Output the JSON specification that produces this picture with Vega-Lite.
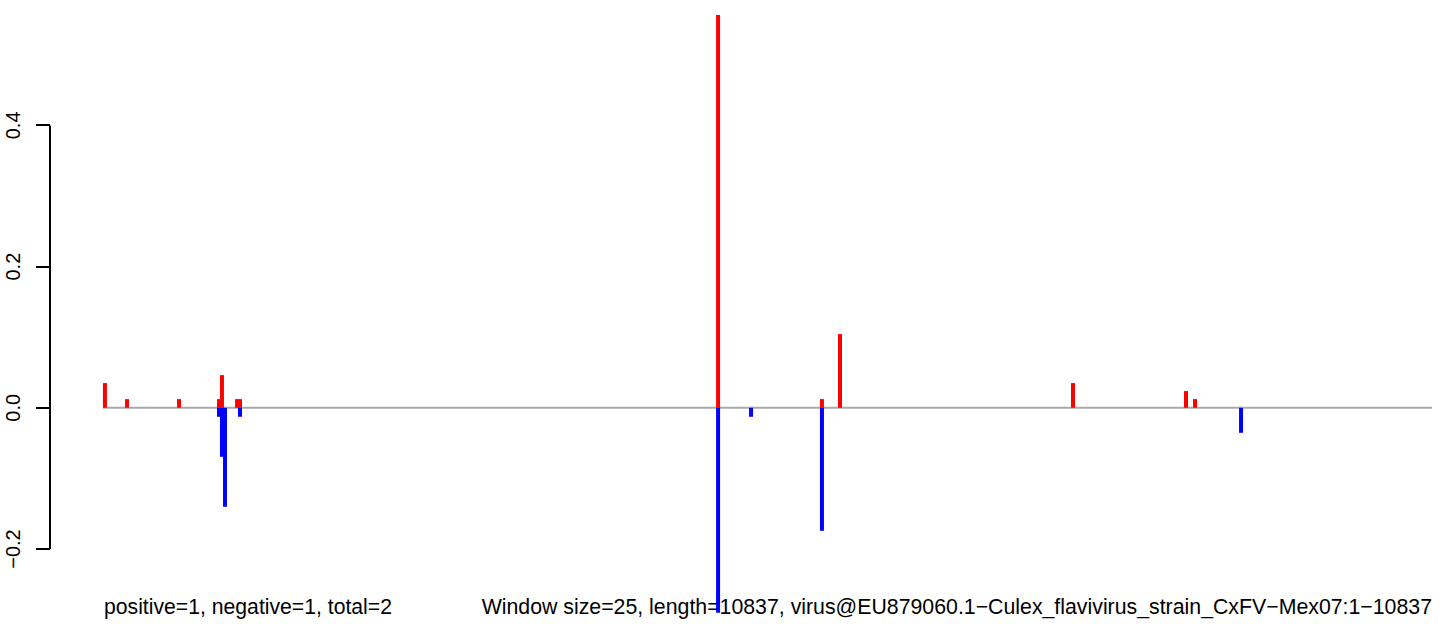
{
  "$schema": "https://vega.github.io/schema/vega-lite/v6.json",
  "width": 1394,
  "height": 624,
  "autosize": {"type": "none"},
  "padding": {"left": 50, "top": 0, "right": 0, "bottom": 0},
  "background": "white",
  "config": {
    "view": {"stroke": null},
    "font": "Liberation Sans",
    "axisX": {"disable": true},
    "axisY": {
      "domain": false,
      "grid": false,
      "tickSize": 14,
      "tickWidth": 2,
      "tickColor": "black",
      "labelAngle": -90,
      "labelAlign": "center",
      "labelBaseline": "alphabetic",
      "labelPadding": 16,
      "labelFontSize": 20,
      "labelColor": "black",
      "labelFont": "Liberation Sans",
      "translate": 0
    }
  },
  "datasets": {
    "windows": [
      {"pos": 17, "score": 0.035, "sign": "positive"},
      {"pos": 197, "score": 0.0123, "sign": "positive"},
      {"pos": 621, "score": 0.0123, "sign": "positive"},
      {"pos": 947, "score": 0.0123, "sign": "positive"},
      {"pos": 971, "score": 0.0463, "sign": "positive"},
      {"pos": 1094, "score": 0.0123, "sign": "positive"},
      {"pos": 1118, "score": 0.0123, "sign": "positive"},
      {"pos": 5016, "score": 0.5565, "sign": "positive"},
      {"pos": 5863, "score": 0.0123, "sign": "positive"},
      {"pos": 6010, "score": 0.1044, "sign": "positive"},
      {"pos": 7910, "score": 0.035, "sign": "positive"},
      {"pos": 8831, "score": 0.0237, "sign": "positive"},
      {"pos": 8905, "score": 0.0123, "sign": "positive"},
      {"pos": 947, "score": -0.0127, "sign": "negative"},
      {"pos": 971, "score": -0.0694, "sign": "negative"},
      {"pos": 996, "score": -0.1402, "sign": "negative"},
      {"pos": 1118, "score": -0.0127, "sign": "negative"},
      {"pos": 5016, "score": -0.2904, "sign": "negative"},
      {"pos": 5285, "score": -0.0127, "sign": "negative"},
      {"pos": 5863, "score": -0.1742, "sign": "negative"},
      {"pos": 9280, "score": -0.0354, "sign": "negative"}
    ]
  },
  "layer": [
    {
      "data": {"values": [{}]},
      "mark": {"type": "text", "align": "left", "baseline": "alphabetic", "fontSize": 21.2, "font": "Liberation Sans", "color": "black"},
      "encoding": {
        "x": {"datum": 9, "type": "quantitative", "scale": {"domain": [-431.1, 10934.8], "nice": false, "zero": false}},
        "y": {"datum": -0.2922, "type": "quantitative", "scale": {"domain": [-0.3062, 0.5776], "nice": false, "zero": false}},
        "text": {"value": "positive=1, negative=1, total=2"}
      }
    },
    {
      "data": {"values": [{}]},
      "mark": {"type": "text", "align": "right", "baseline": "alphabetic", "fontSize": 21.3, "font": "Liberation Sans", "color": "black"},
      "encoding": {
        "x": {"datum": 10837, "type": "quantitative"},
        "y": {"datum": -0.2922, "type": "quantitative"},
        "text": {"value": "Window size=25, length=10837, virus@EU879060.1−Culex_flavivirus_strain_CxFV−Mex07:1−10837"}
      }
    },
    {
      "data": {"values": [{}]},
      "mark": {"type": "rule", "color": "#a9a9a9", "strokeWidth": 2},
      "encoding": {
        "x": {"datum": 1, "type": "quantitative"},
        "x2": {"datum": 10837},
        "y": {"datum": 0, "type": "quantitative"}
      }
    },
    {
      "data": {"name": "windows"},
      "mark": {"type": "rule", "strokeWidth": 4},
      "encoding": {
        "x": {"field": "pos", "type": "quantitative", "scale": {"domain": [-431.1, 10934.8], "nice": false, "zero": false}},
        "y": {"field": "score", "type": "quantitative", "scale": {"domain": [-0.3062, 0.5776], "nice": false, "zero": false}, "axis": {"values": [-0.2, 0, 0.2, 0.4], "format": ".1f", "title": null}},
        "y2": {"datum": 0},
        "color": {"field": "sign", "type": "nominal", "scale": {"domain": ["positive", "negative"], "range": ["#ff0000", "#0000ff"]}, "legend": null}
      }
    },
    {
      "data": {"values": [{}]},
      "mark": {"type": "rule", "color": "black", "strokeWidth": 2},
      "encoding": {
        "x": {"datum": -431.1, "type": "quantitative"},
        "y": {"datum": -0.2, "type": "quantitative"},
        "y2": {"datum": 0.4}
      }
    }
  ]
}
